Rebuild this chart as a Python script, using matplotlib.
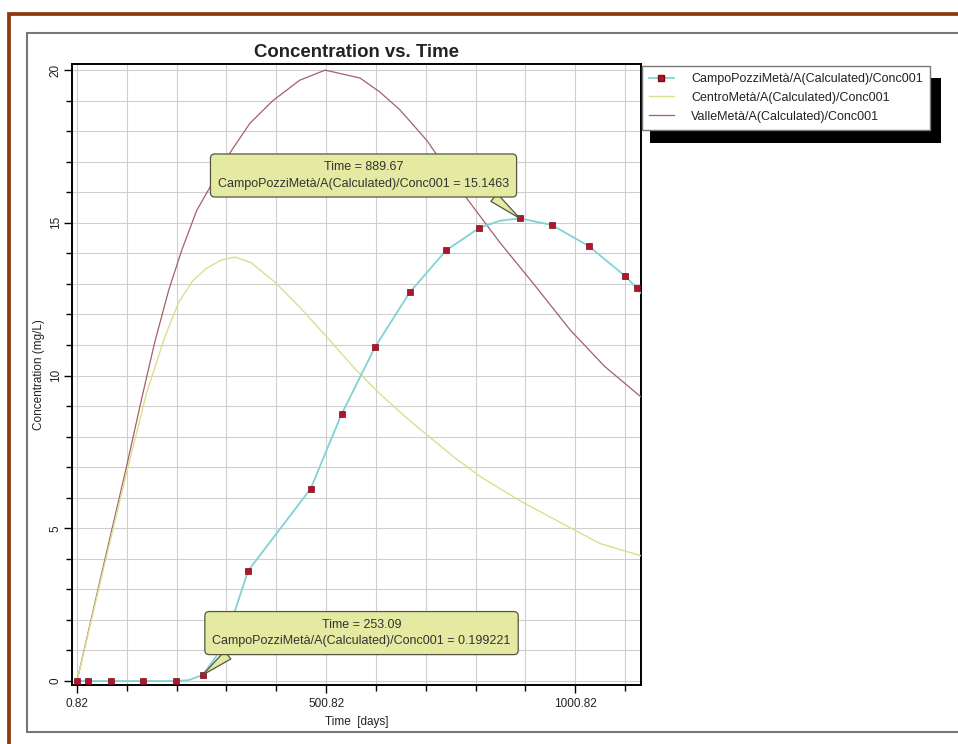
import matplotlib
matplotlib.use('Agg')
import matplotlib.pyplot as plt
from matplotlib.patches import Rectangle
from matplotlib.lines import Line2D
import numpy as np

plt.rcParams['font.family'] = ['Liberation Sans', 'DejaVu Sans']

# --- dados ---
campo_t = [0.82, 23, 69, 133, 200, 253.09, 344, 470, 532, 599, 669, 742, 808, 889.67, 954, 1028, 1101, 1125]
campo_c = [0, 0, 0, 0, 0, 0.199221, 3.6, 6.3, 8.74, 10.93, 12.73, 14.1, 14.83, 15.1463, 14.93, 14.24, 13.26, 12.86]

# linha ciano (passa pelos marcadores, com alguns pontos extra)
campo_line_t = [0.82, 23, 69, 133, 200, 225, 253.09, 280, 310, 344, 407, 470, 532, 599, 669, 742, 808,
                850, 889.67, 954, 1028, 1101, 1125, 1133]
campo_line_c = [0, 0, 0, 0, 0, 0.03, 0.199221, 0.8, 1.9, 3.6, 4.95, 6.3, 8.74, 10.93, 12.73, 14.1, 14.83,
                15.07, 15.1463, 14.93, 14.24, 13.26, 12.86, 12.7]

centro_t = [0.82, 50, 100, 140, 177, 205, 233, 260, 290, 318, 350, 398, 448, 508, 560, 609, 660, 709, 760,
            810, 890, 970, 1051, 1133]
centro_c = [0, 3.4, 6.8, 9.4, 11.26, 12.4, 13.1, 13.5, 13.78, 13.88, 13.7, 13.06, 12.24, 11.16, 10.2, 9.4,
            8.65, 7.98, 7.3, 6.7, 5.9, 5.2, 4.5, 4.1]

valle_t = [0.82, 50, 100, 130, 157, 185, 211, 241, 302, 348, 394, 448, 499, 569, 609, 649, 703, 786, 850,
           920, 991, 1060, 1133]
valle_c = [0, 3.5, 7.0, 9.2, 11.1, 12.8, 14.1, 15.4, 17.15, 18.26, 19.0, 19.67, 20.0, 19.74, 19.28, 18.7,
           17.7, 15.74, 14.35, 12.95, 11.49, 10.3, 9.3]

labels = ['CampoPozziMetà/A(Calculated)/Conc001',
          'CentroMetà/A(Calculated)/Conc001',
          'ValleMetà/A(Calculated)/Conc001']

x_major = [0.82, 500.82, 1000.82]
x_minor = [100.82, 200.82, 300.82, 400.82, 600.82, 700.82, 800.82, 900.82, 1100.82]
y_major = [0, 5, 10, 15, 20]

# cores
cor_ciano = '#7fd3d6'
cor_amarelo = '#d9e08c'
cor_vinho = '#a3606a'
cor_marcador = '#b3142b'
cor_balao = '#e5eaa2'
cor_moldura = '#8b3a0e'

W, H = 958, 744
fig = plt.figure(figsize=(W / 100, H / 100), dpi=100, facecolor='white')


def rect_px(x0, y0, x1, y1, **kw):
    return Rectangle((x0 / W, 1 - y1 / H), (x1 - x0) / W, (y1 - y0) / H,
                     transform=fig.transFigure, **kw)


# moldura marrom e painel cinza (atrás dos eixos)
fig.patches.append(rect_px(8.5, 14, 1100, 900, fill=False, edgecolor=cor_moldura, linewidth=2.7, zorder=-2))
fig.patches.append(rect_px(27, 33, 1100, 732, facecolor='white', edgecolor='#777777', linewidth=1.5, zorder=-1))

ax = fig.add_axes([72 / W, 1 - 685 / H, (641 - 72) / W, (685 - 64) / H])
ax.set_facecolor('white')

ax.plot(valle_t, valle_c, color=cor_vinho, linewidth=0.9, zorder=3)
ax.plot(centro_t, centro_c, color=cor_amarelo, linewidth=1.0, zorder=3)
ax.plot(campo_line_t, campo_line_c, color=cor_ciano, linewidth=1.3, zorder=4)
ax.plot(campo_t, campo_c, linestyle='none', marker='s', markersize=5,
        markerfacecolor=cor_marcador, markeredgecolor='#7a0a18', markeredgewidth=0.5, zorder=5,
        clip_on=False)

ax.set_xlim(-9.2, 1133)
ax.set_ylim(-0.13, 20.2)
ax.set_xticks(x_major)
ax.set_xticklabels(['0.82', '500.82', '1000.82'])
ax.set_xticks(x_minor, minor=True)
ax.set_yticks(y_major)
ax.set_yticks(np.arange(0, 21, 1), minor=True)
ax.grid(which='both', color='#cfcfcf', linewidth=0.8, zorder=0)
ax.set_axisbelow(True)

for s in ax.spines.values():
    s.set_color('black')
    s.set_linewidth(1.4)
ax.tick_params(which='major', length=6, width=1, labelsize=8.5, colors='black', labelcolor='#222222')
ax.tick_params(which='minor', length=4, width=1)
ax.tick_params(axis='y', labelrotation=90, pad=1.5)
for lbl in ax.get_yticklabels():
    lbl.set_va('center')

ax.set_xlabel('Time  [days]', fontsize=8.5, color='#222222', labelpad=4)
ax.set_ylabel('Concentration (mg/L)', fontsize=8.5, color='#222222', labelpad=3.5)
ax.set_title('Concentration vs. Time', fontsize=13.4, fontweight='bold', color='#222222', pad=5)

# balões de anotação
caixa = dict(boxstyle='round,pad=0.6,rounding_size=0.35', facecolor=cor_balao, edgecolor='#555544', linewidth=0.9)
ax.annotate('Time = 889.67\nCampoPozziMetà/A(Calculated)/Conc001 = 15.1463',
            xy=(889.67, 15.1463), xytext=(576, 16.55), ha='center', va='center',
            fontsize=9.0, color='#333333', linespacing=1.45, bbox=caixa, zorder=8,
            arrowprops=dict(arrowstyle='wedge,tail_width=0.8', facecolor=cor_balao, edgecolor='#555544',
                            linewidth=0.9, relpos=(0.91, 0.04), shrinkA=0, shrinkB=0))
ax.annotate('Time = 253.09\nCampoPozziMetà/A(Calculated)/Conc001 = 0.199221',
            xy=(253.09, 0.199221), xytext=(572, 1.57), ha='center', va='center',
            fontsize=9.0, color='#333333', linespacing=1.45, bbox=caixa, zorder=8,
            arrowprops=dict(arrowstyle='wedge,tail_width=0.8', facecolor=cor_balao, edgecolor='#555544',
                            linewidth=0.9, relpos=(0.09, 0.04), shrinkA=0, shrinkB=0))

# legenda com sombra preta
fig.patches.append(rect_px(650, 78, 941, 143, facecolor='black', edgecolor='none', zorder=1))
handles = [Line2D([], [], color=cor_ciano, linewidth=1.3, marker='s', markersize=5,
                  markerfacecolor=cor_marcador, markeredgecolor='#7a0a18'),
           Line2D([], [], color=cor_amarelo, linewidth=1.0),
           Line2D([], [], color=cor_vinho, linewidth=0.9)]
leg = fig.legend(handles, labels, loc='upper left', bbox_to_anchor=(642 / W, 1 - 66 / H),
                 borderaxespad=0, fontsize=9.0, frameon=True, fancybox=False, framealpha=1,
                 edgecolor='#777777', facecolor='white', handlelength=2.0, handletextpad=1.4,
                 labelspacing=0.55, borderpad=0.55)
leg.get_frame().set_linewidth(1.0)
leg.set_zorder(5)
for t in leg.get_texts():
    t.set_color('#222222')

fig.savefig('out.png', dpi=100, facecolor='white')
